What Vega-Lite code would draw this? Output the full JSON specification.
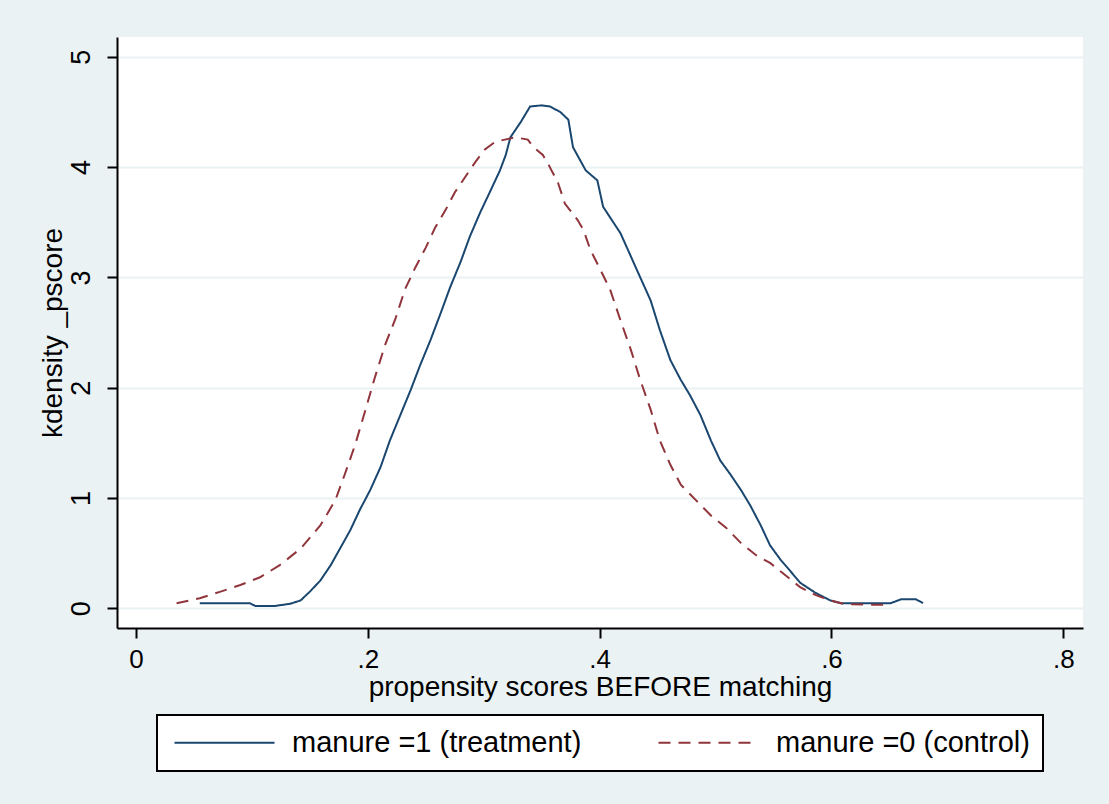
{
  "$schema": "https://vega.github.io/schema/vega-lite/v6.json",
  "width": 966,
  "height": 591,
  "autosize": {"type": "none"},
  "padding": {"left": 117, "top": 37, "right": 26, "bottom": 176},
  "background": "#eaf2f3",
  "config": {
    "view": {"fill": "white", "stroke": null},
    "font": "Liberation Sans",
    "axis": {
      "labelFont": "Liberation Sans",
      "titleFont": "Liberation Sans",
      "labelColor": "black",
      "titleColor": "black",
      "titleFontWeight": "normal",
      "labelFontSize": 27,
      "titleFontSize": 28,
      "domainColor": "black",
      "domainWidth": 2,
      "tickColor": "black",
      "tickWidth": 2,
      "tickSize": 10
    },
    "legend": {
      "fillColor": "white",
      "strokeColor": "black",
      "padding": 13,
      "symbolType": "M-1,0H9",
      "symbolSize": 400,
      "symbolStrokeWidth": 2,
      "labelFont": "Liberation Sans",
      "labelFontSize": 29,
      "labelColor": "black",
      "labelOffset": 93,
      "labelLimit": 400,
      "columnPadding": 72
    }
  },
  "data": {
    "values": [
      {"x": 0.055, "y": 0.045, "group": "manure =1 (treatment)"},
      {"x": 0.098, "y": 0.045, "group": "manure =1 (treatment)"},
      {"x": 0.103, "y": 0.02, "group": "manure =1 (treatment)"},
      {"x": 0.12, "y": 0.02, "group": "manure =1 (treatment)"},
      {"x": 0.133, "y": 0.04, "group": "manure =1 (treatment)"},
      {"x": 0.142, "y": 0.07, "group": "manure =1 (treatment)"},
      {"x": 0.15, "y": 0.15, "group": "manure =1 (treatment)"},
      {"x": 0.159, "y": 0.25, "group": "manure =1 (treatment)"},
      {"x": 0.168, "y": 0.39, "group": "manure =1 (treatment)"},
      {"x": 0.176, "y": 0.54, "group": "manure =1 (treatment)"},
      {"x": 0.185, "y": 0.71, "group": "manure =1 (treatment)"},
      {"x": 0.193, "y": 0.89, "group": "manure =1 (treatment)"},
      {"x": 0.202, "y": 1.07, "group": "manure =1 (treatment)"},
      {"x": 0.211, "y": 1.28, "group": "manure =1 (treatment)"},
      {"x": 0.219, "y": 1.52, "group": "manure =1 (treatment)"},
      {"x": 0.228, "y": 1.75, "group": "manure =1 (treatment)"},
      {"x": 0.237, "y": 1.98, "group": "manure =1 (treatment)"},
      {"x": 0.245, "y": 2.2, "group": "manure =1 (treatment)"},
      {"x": 0.254, "y": 2.43, "group": "manure =1 (treatment)"},
      {"x": 0.263, "y": 2.68, "group": "manure =1 (treatment)"},
      {"x": 0.271, "y": 2.91, "group": "manure =1 (treatment)"},
      {"x": 0.28, "y": 3.14, "group": "manure =1 (treatment)"},
      {"x": 0.288, "y": 3.37, "group": "manure =1 (treatment)"},
      {"x": 0.297, "y": 3.59, "group": "manure =1 (treatment)"},
      {"x": 0.306, "y": 3.79, "group": "manure =1 (treatment)"},
      {"x": 0.314, "y": 3.97, "group": "manure =1 (treatment)"},
      {"x": 0.319, "y": 4.11, "group": "manure =1 (treatment)"},
      {"x": 0.323, "y": 4.27, "group": "manure =1 (treatment)"},
      {"x": 0.332, "y": 4.41, "group": "manure =1 (treatment)"},
      {"x": 0.34, "y": 4.55, "group": "manure =1 (treatment)"},
      {"x": 0.35, "y": 4.56, "group": "manure =1 (treatment)"},
      {"x": 0.357, "y": 4.55, "group": "manure =1 (treatment)"},
      {"x": 0.366, "y": 4.5, "group": "manure =1 (treatment)"},
      {"x": 0.373, "y": 4.43, "group": "manure =1 (treatment)"},
      {"x": 0.377, "y": 4.18, "group": "manure =1 (treatment)"},
      {"x": 0.388, "y": 3.97, "group": "manure =1 (treatment)"},
      {"x": 0.398, "y": 3.88, "group": "manure =1 (treatment)"},
      {"x": 0.403, "y": 3.64, "group": "manure =1 (treatment)"},
      {"x": 0.418, "y": 3.4, "group": "manure =1 (treatment)"},
      {"x": 0.435, "y": 3.0, "group": "manure =1 (treatment)"},
      {"x": 0.444, "y": 2.79, "group": "manure =1 (treatment)"},
      {"x": 0.452, "y": 2.52, "group": "manure =1 (treatment)"},
      {"x": 0.461, "y": 2.25, "group": "manure =1 (treatment)"},
      {"x": 0.47, "y": 2.07, "group": "manure =1 (treatment)"},
      {"x": 0.478, "y": 1.93, "group": "manure =1 (treatment)"},
      {"x": 0.487, "y": 1.75, "group": "manure =1 (treatment)"},
      {"x": 0.496, "y": 1.52, "group": "manure =1 (treatment)"},
      {"x": 0.504, "y": 1.34, "group": "manure =1 (treatment)"},
      {"x": 0.513, "y": 1.21, "group": "manure =1 (treatment)"},
      {"x": 0.522, "y": 1.07, "group": "manure =1 (treatment)"},
      {"x": 0.53, "y": 0.93, "group": "manure =1 (treatment)"},
      {"x": 0.539, "y": 0.75, "group": "manure =1 (treatment)"},
      {"x": 0.547, "y": 0.57, "group": "manure =1 (treatment)"},
      {"x": 0.556, "y": 0.44, "group": "manure =1 (treatment)"},
      {"x": 0.565, "y": 0.33, "group": "manure =1 (treatment)"},
      {"x": 0.573, "y": 0.23, "group": "manure =1 (treatment)"},
      {"x": 0.586, "y": 0.14, "group": "manure =1 (treatment)"},
      {"x": 0.599, "y": 0.07, "group": "manure =1 (treatment)"},
      {"x": 0.608, "y": 0.045, "group": "manure =1 (treatment)"},
      {"x": 0.625, "y": 0.045, "group": "manure =1 (treatment)"},
      {"x": 0.651, "y": 0.045, "group": "manure =1 (treatment)"},
      {"x": 0.66, "y": 0.08, "group": "manure =1 (treatment)"},
      {"x": 0.673, "y": 0.08, "group": "manure =1 (treatment)"},
      {"x": 0.679, "y": 0.045, "group": "manure =1 (treatment)"},
      {"x": 0.035, "y": 0.045, "group": "manure =0 (control)"},
      {"x": 0.055, "y": 0.09, "group": "manure =0 (control)"},
      {"x": 0.073, "y": 0.15, "group": "manure =0 (control)"},
      {"x": 0.09, "y": 0.21, "group": "manure =0 (control)"},
      {"x": 0.107, "y": 0.28, "group": "manure =0 (control)"},
      {"x": 0.124, "y": 0.39, "group": "manure =0 (control)"},
      {"x": 0.142, "y": 0.54, "group": "manure =0 (control)"},
      {"x": 0.159, "y": 0.75, "group": "manure =0 (control)"},
      {"x": 0.172, "y": 0.98, "group": "manure =0 (control)"},
      {"x": 0.18, "y": 1.21, "group": "manure =0 (control)"},
      {"x": 0.189, "y": 1.48, "group": "manure =0 (control)"},
      {"x": 0.198, "y": 1.8, "group": "manure =0 (control)"},
      {"x": 0.206, "y": 2.09, "group": "manure =0 (control)"},
      {"x": 0.215, "y": 2.39, "group": "manure =0 (control)"},
      {"x": 0.224, "y": 2.63, "group": "manure =0 (control)"},
      {"x": 0.232, "y": 2.89, "group": "manure =0 (control)"},
      {"x": 0.241, "y": 3.09, "group": "manure =0 (control)"},
      {"x": 0.25, "y": 3.27, "group": "manure =0 (control)"},
      {"x": 0.258, "y": 3.45, "group": "manure =0 (control)"},
      {"x": 0.267, "y": 3.61, "group": "manure =0 (control)"},
      {"x": 0.275, "y": 3.77, "group": "manure =0 (control)"},
      {"x": 0.284, "y": 3.91, "group": "manure =0 (control)"},
      {"x": 0.293, "y": 4.05, "group": "manure =0 (control)"},
      {"x": 0.301, "y": 4.16, "group": "manure =0 (control)"},
      {"x": 0.31, "y": 4.23, "group": "manure =0 (control)"},
      {"x": 0.327, "y": 4.27, "group": "manure =0 (control)"},
      {"x": 0.338, "y": 4.25, "group": "manure =0 (control)"},
      {"x": 0.343, "y": 4.18, "group": "manure =0 (control)"},
      {"x": 0.351, "y": 4.11, "group": "manure =0 (control)"},
      {"x": 0.356, "y": 4.02, "group": "manure =0 (control)"},
      {"x": 0.364, "y": 3.86, "group": "manure =0 (control)"},
      {"x": 0.37, "y": 3.67, "group": "manure =0 (control)"},
      {"x": 0.381, "y": 3.52, "group": "manure =0 (control)"},
      {"x": 0.386, "y": 3.43, "group": "manure =0 (control)"},
      {"x": 0.392, "y": 3.25, "group": "manure =0 (control)"},
      {"x": 0.402, "y": 3.04, "group": "manure =0 (control)"},
      {"x": 0.409, "y": 2.89, "group": "manure =0 (control)"},
      {"x": 0.418, "y": 2.61, "group": "manure =0 (control)"},
      {"x": 0.427, "y": 2.34, "group": "manure =0 (control)"},
      {"x": 0.435, "y": 2.07, "group": "manure =0 (control)"},
      {"x": 0.444, "y": 1.8, "group": "manure =0 (control)"},
      {"x": 0.452, "y": 1.52, "group": "manure =0 (control)"},
      {"x": 0.461, "y": 1.3, "group": "manure =0 (control)"},
      {"x": 0.47, "y": 1.12, "group": "manure =0 (control)"},
      {"x": 0.483, "y": 0.98, "group": "manure =0 (control)"},
      {"x": 0.496, "y": 0.84, "group": "manure =0 (control)"},
      {"x": 0.509, "y": 0.73, "group": "manure =0 (control)"},
      {"x": 0.522, "y": 0.59, "group": "manure =0 (control)"},
      {"x": 0.535, "y": 0.48, "group": "manure =0 (control)"},
      {"x": 0.547, "y": 0.41, "group": "manure =0 (control)"},
      {"x": 0.56, "y": 0.3, "group": "manure =0 (control)"},
      {"x": 0.573, "y": 0.19, "group": "manure =0 (control)"},
      {"x": 0.586, "y": 0.12, "group": "manure =0 (control)"},
      {"x": 0.599, "y": 0.07, "group": "manure =0 (control)"},
      {"x": 0.612, "y": 0.035, "group": "manure =0 (control)"},
      {"x": 0.647, "y": 0.03, "group": "manure =0 (control)"}
    ]
  },
  "mark": {"type": "line", "strokeWidth": 2, "clip": true},
  "encoding": {
    "x": {
      "field": "x",
      "type": "quantitative",
      "scale": {"domain": [-0.0164, 0.817], "nice": false, "zero": false},
      "axis": {
        "title": "propensity scores BEFORE matching",
        "values": [0, 0.2, 0.4, 0.6, 0.8],
        "labelExpr": "datum.value == 0 ? '0' : replace(format(datum.value, '.1f'), '0.', '.')",
        "grid": false,
        "labelFontSize": 26,
        "labelPadding": 8,
        "titlePadding": 1
      }
    },
    "y": {
      "field": "y",
      "type": "quantitative",
      "scale": {"domain": [-0.18, 5.18], "nice": false, "zero": false},
      "axis": {
        "title": "kdensity _pscore",
        "values": [0, 1, 2, 3, 4, 5],
        "labelAngle": -90,
        "labelAlign": "center",
        "labelBaseline": "bottom",
        "labelPadding": 12,
        "titlePadding": 0,
        "grid": true,
        "gridColor": "#eaf2f3",
        "gridWidth": 2
      }
    },
    "color": {
      "field": "group",
      "type": "nominal",
      "scale": {
        "domain": ["manure =1 (treatment)", "manure =0 (control)"],
        "range": ["#1a476f", "#90353b"]
      },
      "legend": {
        "title": null,
        "orient": "none",
        "legendX": 40,
        "legendY": 678,
        "direction": "horizontal",
        "encode": {"legend": {"update": {"strokeWidth": {"value": 2}}}}
      }
    },
    "strokeDash": {
      "field": "group",
      "type": "nominal",
      "scale": {
        "domain": ["manure =1 (treatment)", "manure =0 (control)"],
        "range": [[1, 0], [12, 8]]
      },
      "legend": {
        "title": null,
        "orient": "none",
        "legendX": 40,
        "legendY": 678,
        "direction": "horizontal"
      }
    }
  }
}
